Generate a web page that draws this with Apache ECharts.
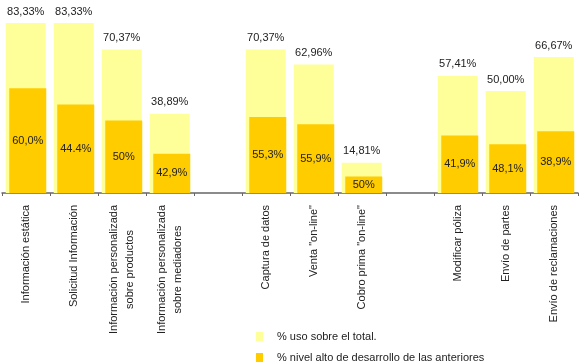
<!DOCTYPE html>
<html>
<head>
<meta charset="utf-8">
<script src="https://cdn.jsdelivr.net/npm/echarts@6/dist/echarts.min.js"></script>
<style>
  html, body { margin: 0; padding: 0; background: #fff; }
  #chart { width: 580px; height: 364px; }
</style>
</head>
<body>
<div id="chart"></div>
<script>
const categories = [
  'Información estática',
  'Solicitud Información',
  'Información personalizada\nsobre productos',
  'Información personalizada\nsobre mediadores',
  '',
  'Captura de datos',
  'Venta "on-line"',
  'Cobro prima "on-line"',
  '',
  'Modificar póliza',
  'Envío de partes',
  'Envío de reclamaciones'
];
const usoTotal = [83.33, 83.33, 70.37, 38.89, null, 70.37, 62.96, 14.81, null, 57.41, 50.00, 66.67];
const nivelAlto = [51.4, 43.4, 35.5, 19.2, null, 37.2, 33.7, 8.1, null, 28.2, 23.9, 30.3];
const nivelLabels = ['60,0%', '44.4%', '50%', '42,9%', '', '55,3%', '55,9%', '50%', '', '41,9%', '48,1%', '38,9%'];
const seriesNames = ['% uso sobre el total.', '% nivel alto de desarrollo de las anteriores'];

const FONT = 'Arial, "Liberation Sans", sans-serif';
const chart = echarts.init(document.getElementById('chart'), null, { renderer: 'canvas' });

chart.setOption({
  animation: false,
  backgroundColor: '#ffffff',
  textStyle: { fontFamily: FONT },
  grid: { left: 2, right: 2, top: 9.4, height: 183.6 },
  legend: {
    orient: 'vertical',
    left: 256,
    top: 330,
    padding: 0,
    itemWidth: 7,
    itemHeight: 9,
    itemGap: 8,
    icon: 'rect',
    data: seriesNames,
    textStyle: { fontFamily: FONT, fontSize: 11, color: '#222', lineHeight: 13, padding: [0, 0, 0, 9] }
  },
  xAxis: {
    type: 'category',
    data: categories,
    axisLine: { lineStyle: { color: '#666', width: 1.5 } },
    axisTick: { show: true, length: 3, lineStyle: { color: '#666', width: 1 } },
    axisLabel: {
      interval: 0,
      rotate: 90,
      margin: 12,
      formatter: function (v) {
        return v.split('\n').map(function (l) { return '{c|' + l + '}'; }).join('\n');
      },
      rich: {
        c: { align: 'center', fontFamily: FONT, fontSize: 11, lineHeight: 16, color: '#222' }
      }
    }
  },
  yAxis: {
    type: 'value',
    min: 0,
    max: 90,
    show: false,
    splitLine: { show: false }
  },
  series: [
    {
      name: seriesNames[0],
      type: 'bar',
      data: usoTotal,
      barWidth: 40,
      barGap: '-91.25%',
      itemStyle: { color: '#FFFF99' },
      label: {
        show: true,
        position: 'top',
        distance: 6,
        fontFamily: FONT,
        fontSize: 11,
        color: '#222',
        formatter: function (p) { return p.value.toFixed(2).replace('.', ',') + '%'; }
      }
    },
    {
      name: seriesNames[1],
      type: 'bar',
      data: nivelAlto,
      barWidth: 37,
      itemStyle: { color: '#FFCC00' },
      label: {
        show: true,
        position: 'inside',
        fontFamily: FONT,
        fontSize: 11,
        color: '#222',
        formatter: function (p) { return nivelLabels[p.dataIndex]; }
      }
    }
  ]
});
</script>
</body>
</html>
